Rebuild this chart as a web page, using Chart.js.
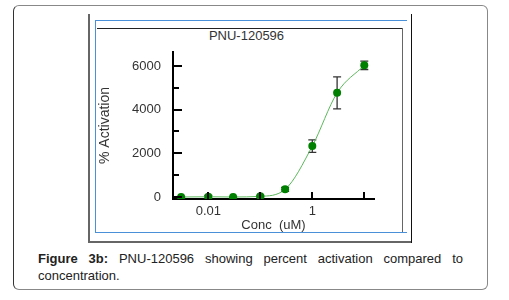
<!DOCTYPE html>
<html>
<head>
<meta charset="utf-8">
<script src="https://cdn.jsdelivr.net/npm/chart.js@4/dist/chart.umd.min.js"></script>
<style>
  body { margin: 0; background: #fff; font-family: "Liberation Sans", Arial, sans-serif; }
  #page { position: relative; width: 509px; height: 300px; overflow: hidden; }
  .abs { position: absolute; }
  #outer { left: 13px; top: 5px; width: 473px; height: 283px; border: 1px solid #888; border-left-color: #333; border-radius: 6px; }
  #chartTitle { left: 96px; width: 301px; top: 28px; text-align: center; font-size: 13px; color: #333; line-height: 16px; }
  #caption { left: 38px; top: 250px; width: 425px; font-size: 13px; line-height: 17px; color: #222; text-align: justify; }
  canvas { position: absolute; left: 96px; top: 28px; }
</style>
</head>
<body>
<div id="page">
  <div id="outer" class="abs"></div>
  <!-- figure frame lines -->
  <div class="abs" style="left:88px;top:14px;width:2px;height:229px;background:#666"></div>
  <div class="abs" style="left:88px;top:241px;width:324px;height:2px;background:#666"></div>
  <div class="abs" style="left:411px;top:14px;width:1px;height:229px;background:#111"></div>
  <div class="abs" style="left:95px;top:20px;width:312px;height:1px;background:#4a90d9"></div>
  <div class="abs" style="left:95px;top:20px;width:1px;height:213px;background:#4a90d9"></div>
  <div class="abs" style="left:95px;top:232px;width:312px;height:1px;background:#4a90d9"></div>
  <div class="abs" style="left:97px;top:28px;width:306px;height:1px;background:#222"></div>
  <div class="abs" style="left:402px;top:28px;width:1px;height:204px;background:#666"></div>
  <div id="chartTitle" class="abs">PNU-120596</div>
  <canvas id="chart" width="307" height="204"></canvas>
  <div id="caption" class="abs"><b>Figure 3b:</b> PNU-120596 showing percent activation compared to concentration.</div>
</div>
<script>
// data
const concValues = [0.003, 0.01, 0.03, 0.1, 0.3, 1, 3, 10];
const activation = [0, 10, 0, 30, 350, 2330, 4770, 6030];
const errors = [20, 60, 20, 40, 90, 290, 730, 190];

const xTickValues = [0.01, 0.1, 1, 10];
const xTickLabels = ['0.01', '', '1', ''];
const yTickValues = [0, 1000, 2000, 3000, 4000, 5000, 6000];
const yTickLabels = ['0', '', '2000', '', '4000', '', '6000'];

const decor = {
  id: 'decor',
  beforeDatasetsDraw(chart) {
    const { ctx, scales: { x, y } } = chart;
    ctx.save();
    ctx.strokeStyle = '#333';
    ctx.lineWidth = 1.3;
    concValues.forEach((c, i) => {
      const px = x.getPixelForValue(c);
      const top = y.getPixelForValue(activation[i] + errors[i]);
      const bot = y.getPixelForValue(activation[i] - errors[i]);
      ctx.beginPath();
      ctx.moveTo(px, top); ctx.lineTo(px, bot);
      ctx.moveTo(px - 4, top); ctx.lineTo(px + 4, top);
      ctx.moveTo(px - 4, bot); ctx.lineTo(px + 4, bot);
      ctx.stroke();
    });
    ctx.restore();
  },
  afterDatasetsDraw(chart) {
    const { ctx, chartArea, scales: { x, y } } = chart;
    ctx.save();
    ctx.strokeStyle = '#000';
    ctx.lineWidth = 2;
    ctx.beginPath();
    xTickValues.forEach(v => {
      const px = Math.round(x.getPixelForValue(v));
      ctx.moveTo(px, chartArea.bottom);
      ctx.lineTo(px, chartArea.bottom - 7);
    });
    yTickValues.forEach((v, i) => {
      const py = Math.round(y.getPixelForValue(v));
      ctx.moveTo(chartArea.left, py);
      ctx.lineTo(chartArea.left + (yTickLabels[i] ? 9 : 6), py);
    });
    ctx.stroke();
    ctx.restore();
  }
};

new Chart(document.getElementById('chart'), {
  type: 'scatter',
  data: {
    datasets: [{
      data: concValues.map((c, i) => ({ x: c, y: activation[i] })),
      showLine: true,
      borderColor: '#5cb85c',
      borderWidth: 1,
      cubicInterpolationMode: 'monotone',
      pointRadius: 4,
      pointBackgroundColor: '#008000',
      pointBorderColor: '#008000',
      pointBorderWidth: 0
    }]
  },
  options: {
    responsive: false,
    animation: false,
    layout: { padding: { top: 24, right: 29, left: 0, bottom: 0 } },
    plugins: { legend: { display: false }, tooltip: { enabled: false } },
    scales: {
      x: {
        type: 'logarithmic',
        min: 0.002094,
        max: 15.37,
        grid: { display: false },
        border: { display: true, color: '#000', width: 2 },
        afterBuildTicks: scale => { scale.ticks = xTickValues.map(v => ({ value: v })); },
        afterFit: scale => { scale.height = 33; },
        ticks: {
          autoSkip: false,
          maxRotation: 0,
          padding: -3,
          color: '#333',
          font: { family: 'Liberation Sans', size: 13 },
          callback: (v, i) => xTickLabels[i]
        },
        title: {
          display: true,
          text: 'Conc  (uM)',
          color: '#333',
          font: { family: 'Liberation Sans', size: 13 },
          padding: { top: 0, bottom: -1 }
        }
      },
      y: {
        min: -92,
        max: 6641,
        grid: { display: false },
        border: { display: true, color: '#000', width: 2 },
        afterBuildTicks: scale => { scale.ticks = yTickValues.map(v => ({ value: v })); },
        afterFit: scale => { scale.width = 77; },
        ticks: {
          autoSkip: false,
          padding: 4,
          color: '#333',
          font: { family: 'Liberation Sans', size: 13 },
          callback: (v, i) => yTickLabels[i]
        },
        title: {
          display: true,
          text: '% Activation',
          color: '#333',
          font: { family: 'Liberation Sans', size: 14 },
          padding: { top: 1, bottom: 0 }
        }
      }
    }
  },
  plugins: [decor]
});
</script>
</body>
</html>
